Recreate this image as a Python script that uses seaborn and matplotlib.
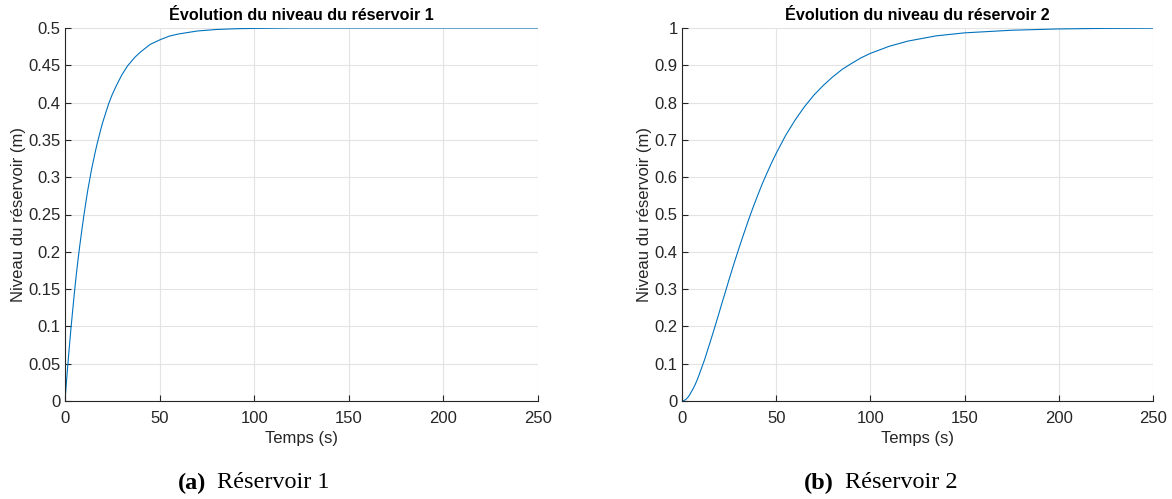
import matplotlib
matplotlib.use("Agg")
import matplotlib.pyplot as plt
import seaborn as sns
import pandas as pd

# ---- data ----
t1 = [0, 1, 2, 3, 4, 5, 6, 7, 8, 9, 10, 11, 12, 13, 14, 15, 16, 17, 18, 19, 20, 21, 23, 25, 27, 30,
      33, 35, 37, 40, 42, 45, 50, 55, 60, 65, 70, 75, 80, 90, 100, 120, 150, 200, 250]
h1 = [0, 0.033, 0.064, 0.093, 0.120, 0.146, 0.170, 0.192, 0.212, 0.231, 0.249, 0.266, 0.282, 0.296,
      0.310, 0.322, 0.334, 0.345, 0.355, 0.365, 0.374, 0.382, 0.398, 0.411, 0.422, 0.437,
      0.449, 0.455, 0.461, 0.468, 0.472, 0.478, 0.484, 0.489, 0.492, 0.494, 0.496, 0.497, 0.498,
      0.499, 0.4995, 0.5, 0.5, 0.5, 0.5]

t2 = [0, 1, 2, 3, 4, 5, 6, 7, 8, 9, 10, 12, 14, 15, 16.5, 18, 19.5, 21, 23, 25, 27.5, 30, 32.5, 35,
      37.5, 40, 42.5, 45, 47.5, 50, 55, 60, 65, 70, 75, 80, 85, 90, 95, 100, 110, 120,
      135, 150, 175, 200, 225, 250]
h2 = [0, 0.001, 0.004, 0.009, 0.016, 0.025, 0.034, 0.044, 0.056, 0.069, 0.083, 0.111, 0.143, 0.159,
      0.183, 0.208, 0.233, 0.259, 0.292, 0.326, 0.367, 0.406, 0.444, 0.481,
      0.516, 0.549, 0.581, 0.610, 0.638, 0.664, 0.712, 0.753, 0.789, 0.820, 0.846, 0.869, 0.889,
      0.905, 0.920, 0.932, 0.951, 0.965, 0.979, 0.987, 0.994, 0.9975, 0.999, 0.9996]

xticks = [0, 50, 100, 150, 200, 250]
yticks1 = [0, 0.05, 0.1, 0.15, 0.2, 0.25, 0.3, 0.35, 0.4, 0.45, 0.5]
yticklabels1 = ["0", "0.05", "0.1", "0.15", "0.2", "0.25", "0.3", "0.35", "0.4", "0.45", "0.5"]
yticks2 = [0, 0.1, 0.2, 0.3, 0.4, 0.5, 0.6, 0.7, 0.8, 0.9, 1]
yticklabels2 = ["0", "0.1", "0.2", "0.3", "0.4", "0.5", "0.6", "0.7", "0.8", "0.9", "1"]

titles = ["Évolution du niveau du réservoir 1", "Évolution du niveau du réservoir 2"]
xlabel = "Temps (s)"
ylabel = "Niveau du réservoir (m)"
captions_tag = ["(a)", "(b)"]
captions_text = ["Réservoir 1", "Réservoir 2"]

sns.set_theme(style="whitegrid")
plt.rcParams['font.family'] = ['Liberation Sans', 'DejaVu Sans']

fig = plt.figure(figsize=(11.72, 4.99), dpi=100)
W, H = 1172, 499
ax1 = fig.add_axes([65 / W, 1 - 401 / H, (538 - 65) / W, (401 - 28) / H])
ax2 = fig.add_axes([682 / W, 1 - 401 / H, (1153 - 682) / W, (401 - 28) / H])

dark = "#262626"
blue = "#0072BD"

panels = [
    (ax1, t1, h1, yticks1, yticklabels1, 0.5, titles[0]),
    (ax2, t2, h2, yticks2, yticklabels2, 1.0, titles[1]),
]
for ax, t, h, yt, ytl, ymax, title in panels:
    df = pd.DataFrame({"t": t, "h": h})
    sns.lineplot(data=df, x="t", y="h", ax=ax, color=blue, linewidth=0.8)
    ax.set_facecolor("white")
    ax.set_xlim(0, 250)
    ax.set_ylim(0, ymax)
    ax.set_xticks(xticks)
    ax.set_xticklabels([str(v) for v in xticks])
    ax.set_yticks(yt)
    ax.set_yticklabels(ytl)
    ax.grid(True, color="#e3e3e3", linewidth=0.8)
    for s in ["top", "right"]:
        ax.spines[s].set_visible(False)
    for s in ["left", "bottom"]:
        ax.spines[s].set_visible(True)
        ax.spines[s].set_color(dark)
        ax.spines[s].set_linewidth(0.8)
    ax.tick_params(axis="both", direction="in", length=4, width=0.8, color=dark,
                   labelcolor=dark, labelsize=12, bottom=True, left=True)
    ax.tick_params(axis="x", pad=7)
    ax.tick_params(axis="y", pad=3)
    ax.set_xlabel(xlabel, fontsize=12, color=dark, labelpad=4)
    ax.set_ylabel(ylabel, fontsize=12, color=dark, labelpad=2)
    ax.set_title(title, fontsize=11.6, fontweight="bold", color="black", pad=6)

cap_x = [253 / W, 881 / W]
serif = ["Liberation Serif", "DejaVu Serif"]
for cx, tag, txt in zip(cap_x, captions_tag, captions_text):
    fig.text(cx - 0.040, 1 - 483 / H, tag, ha="right", va="center", fontsize=17.5,
             fontweight="bold", family=serif, color="black")
    fig.text(cx - 0.031, 1 - 483 / H, txt, ha="left", va="center", fontsize=17.5,
             family=serif, color="black")

fig.savefig("out.png", dpi=100, facecolor="white")
